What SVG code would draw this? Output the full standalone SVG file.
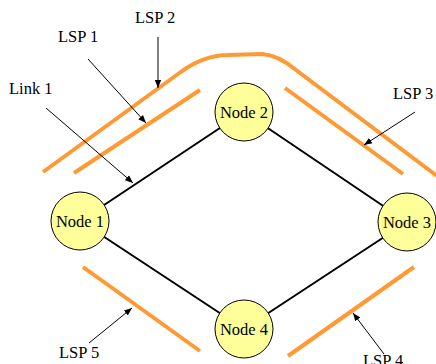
<svg xmlns="http://www.w3.org/2000/svg" width="436" height="364" viewBox="0 0 436 364">
  <defs>
    <marker id="arrow" viewBox="0 0 10 10" refX="10" refY="5" markerWidth="8" markerHeight="8" markerUnits="userSpaceOnUse" orient="auto">
      <path d="M0,1 L10,5 L0,9 z" fill="#000"/>
    </marker>
  </defs>
  <style>
    .lbl { font-family: "Liberation Serif", "Times New Roman", serif; font-size: 16.5px; fill: #000; }
    .node circle { fill: #FFFF99; stroke: #000; stroke-width: 1; }
    .link { stroke: #000; stroke-width: 2; fill: none; }
    .lsp { stroke: #FF9933; stroke-width: 4; fill: none; }
    .ptr { stroke: #000; stroke-width: 1; fill: none; marker-end: url(#arrow); }
  </style>
  <rect width="436" height="364" fill="#fff"/>

  <!-- physical links between nodes -->
  <g id="connectors">
    <line class="link" x1="80" y1="221" x2="244" y2="112"/>
    <line class="link" x1="244" y1="112" x2="407" y2="222"/>
    <line class="link" x1="407" y1="222" x2="244" y2="329"/>
    <line class="link" x1="244" y1="329" x2="80" y2="221"/>
  </g>

  <!-- label switched paths -->
  <g id="lsps">
    <path class="lsp" d="M43,172 L178,74 Q203,55 228,55 L262,54 Q278,55 296,70 L437,176"/>
    <line class="lsp" x1="74" y1="173" x2="200" y2="90"/>
    <line class="lsp" x1="285" y1="88" x2="403" y2="174"/>
    <line class="lsp" x1="83" y1="267" x2="200" y2="351"/>
    <line class="lsp" x1="288" y1="356" x2="414" y2="267"/>
  </g>

  <!-- callout pointers -->
  <g id="pointers">
    <line class="ptr" x1="158" y1="37" x2="158" y2="88"/>
    <line class="ptr" x1="88" y1="59" x2="146" y2="123"/>
    <line class="ptr" x1="46" y1="108" x2="133" y2="183"/>
    <line class="ptr" x1="415" y1="112" x2="364" y2="145"/>
    <line class="ptr" x1="89" y1="343" x2="132" y2="308"/>
    <line class="ptr" x1="384" y1="354" x2="353" y2="313"/>
  </g>

  <!-- callout labels -->
  <g id="labels">
    <text class="lbl" x="135" y="23">LSP 2</text>
    <text class="lbl" x="58" y="42">LSP 1</text>
    <text class="lbl" x="9" y="94">Link 1</text>
    <text class="lbl" x="393" y="99">LSP 3</text>
    <text class="lbl" x="59" y="358">LSP 5</text>
    <text class="lbl" x="363" y="366">LSP 4</text>
  </g>

  <g id="node1" class="node">
    <circle cx="80" cy="221" r="29"/>
    <text class="lbl" x="80" y="227" text-anchor="middle">Node 1</text>
  </g>
  <g id="node2" class="node">
    <circle cx="244" cy="112" r="29"/>
    <text class="lbl" x="244" y="118" text-anchor="middle">Node 2</text>
  </g>
  <g id="node3" class="node">
    <circle cx="407" cy="222" r="29"/>
    <text class="lbl" x="407" y="228" text-anchor="middle">Node 3</text>
  </g>
  <g id="node4" class="node">
    <circle cx="244" cy="329" r="29"/>
    <text class="lbl" x="244" y="335" text-anchor="middle">Node 4</text>
  </g>
</svg>
